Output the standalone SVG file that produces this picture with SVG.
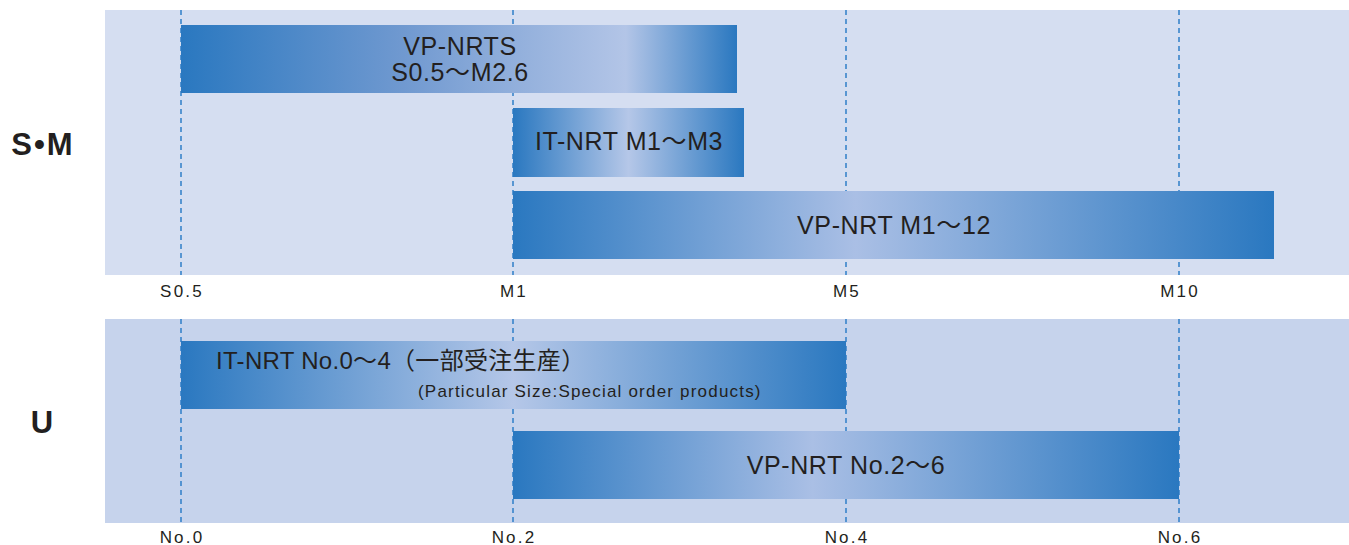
<svg xmlns="http://www.w3.org/2000/svg" width="1349" height="545" viewBox="0 0 1349 545">
<style>
.t{font-family:"Liberation Sans","Noto Sans CJK JP",sans-serif;fill:#231f20}
.bar{font-size:25px;text-anchor:middle;letter-spacing:0.6px}
.ax{font-size:17px;text-anchor:middle;letter-spacing:2.2px}
.grp{font-size:31px;font-weight:bold;text-anchor:middle}
.dash{stroke:#2f7fc8;stroke-width:1.5;stroke-dasharray:5 4;fill:none}
</style>
<defs>
<linearGradient id="g1" x1="0" y1="0" x2="1" y2="0"><stop offset="0" stop-color="#2a78c0"/><stop offset="0.4" stop-color="#7099d0"/><stop offset="0.8" stop-color="#b3c5e7"/><stop offset="1" stop-color="#2a78c0"/></linearGradient>
<linearGradient id="g2" x1="0" y1="0" x2="1" y2="0"><stop offset="0" stop-color="#2a78c0"/><stop offset="0.5" stop-color="#b5c7e8"/><stop offset="1" stop-color="#2a78c0"/></linearGradient>
<linearGradient id="g3" x1="0" y1="0" x2="1" y2="0"><stop offset="0" stop-color="#2a78c0"/><stop offset="0.45" stop-color="#aabfe5"/><stop offset="1" stop-color="#2a78c0"/></linearGradient>
</defs>
<g id="panels">
<rect x="105" y="10" width="1244" height="265" fill="#d5def1"/>
<rect x="105" y="319" width="1244" height="204" fill="#c6d3ec"/>
</g>
<g id="connectors">
<line class="dash" x1="181" y1="10" x2="181" y2="275"/>
<line class="dash" x1="513" y1="10" x2="513" y2="275"/>
<line class="dash" x1="846" y1="10" x2="846" y2="275"/>
<line class="dash" x1="1179" y1="10" x2="1179" y2="275"/>
<line class="dash" x1="181" y1="319" x2="181" y2="523"/>
<line class="dash" x1="513" y1="319" x2="513" y2="523"/>
<line class="dash" x1="846" y1="319" x2="846" y2="523"/>
<line class="dash" x1="1179" y1="319" x2="1179" y2="523"/>
</g>
<g id="labels">
<text class="t grp" x="43" y="155" letter-spacing="2">S•M</text>
<text class="t grp" x="42" y="433" font-size="33">U</text>
<text class="t ax" x="182" y="297">S0.5</text>
<text class="t ax" x="514" y="297">M1</text>
<text class="t ax" x="847" y="297">M5</text>
<text class="t ax" x="1180" y="297">M10</text>
<text class="t ax" x="182" y="543">No.0</text>
<text class="t ax" x="514" y="543">No.2</text>
<text class="t ax" x="847" y="543">No.4</text>
<text class="t ax" x="1180" y="543">No.6</text>
</g>
<g id="vp-nrts">
<rect x="181" y="25" width="556" height="68" fill="url(#g1)"/>
<text class="t bar" x="460" y="55">VP-NRTS</text>
<text class="t bar" x="460" y="81">S0.5〜M2.6</text>
</g>
<g id="it-nrt-m">
<rect x="513" y="108" width="231" height="69" fill="url(#g2)"/>
<text class="t bar" x="629" y="150">IT-NRT M1〜M3</text>
</g>
<g id="vp-nrt-m">
<rect x="513" y="191" width="761" height="68" fill="url(#g3)"/>
<text class="t bar" x="894" y="234">VP-NRT M1〜12</text>
</g>
<g id="it-nrt-no">
<rect x="181" y="341" width="665" height="68" fill="url(#g2)"/>
<text class="t" x="216" y="369" font-size="24" letter-spacing="0.3">IT-NRT No.0〜4（一部受注生産）</text>
<text class="t" x="418" y="397" font-size="17" letter-spacing="1.2">(Particular Size:Special order products)</text>
</g>
<g id="vp-nrt-no">
<rect x="513" y="431" width="666" height="68" fill="url(#g3)"/>
<text class="t bar" x="846" y="474">VP-NRT No.2〜6</text>
</g>
</svg>
